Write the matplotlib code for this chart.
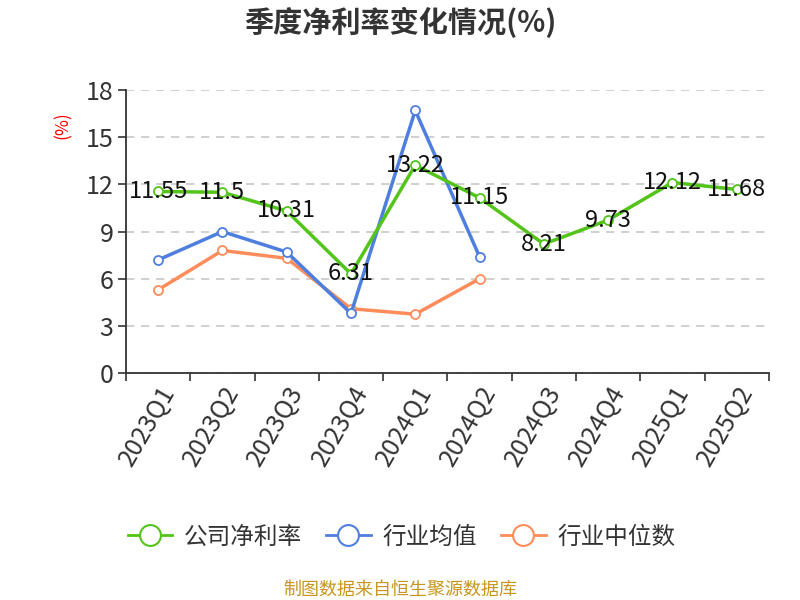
import numpy as np
import matplotlib.pyplot as plt
from matplotlib.lines import Line2D

plt.rcParams['font.family'] = ['Noto Sans CJK SC', 'DejaVu Sans']

# data
quarters = ['2023Q1', '2023Q2', '2023Q3', '2023Q4', '2024Q1',
            '2024Q2', '2024Q3', '2024Q4', '2025Q1', '2025Q2']
company = [11.55, 11.5, 10.31, 6.31, 13.22, 11.15, 8.21, 9.73, 12.12, 11.68]
ind_mean = [7.2, 9.0, 7.7, 3.8, 16.7, 7.4]
ind_median = [5.3, 7.8, 7.3, 4.1, 3.75, 6.0]

green = '#52c41a'
blue = '#4e7fde'
orange = '#ff8c5a'

fig = plt.figure(figsize=(8, 6), dpi=100)
ax = fig.add_axes([0.1575, 0.378, 0.8035, 0.472])

x = np.arange(len(quarters))
mk = dict(marker='o', markersize=6.5, markerfacecolor='white', markeredgewidth=1.3, linewidth=2.5)
ax.plot(x[:len(ind_median)], ind_median, color=orange, **mk, zorder=3)
ax.plot(x[:len(ind_mean)], ind_mean, color=blue, **mk, zorder=4)
ax.plot(x, company, color=green, **mk, zorder=5)

for xi, v in zip(x, company):
    ax.text(xi, v, f'{v:g}', ha='center', va='center', fontsize=17, color='#111111', zorder=6)

ax.set_xlim(-0.5, len(quarters) - 0.5)
ax.set_ylim(0, 18)
ax.set_yticks([0, 3, 6, 9, 12, 15, 18])
ax.set_xticks(x)
ax.set_xticklabels(quarters, rotation=60, ha='right', rotation_mode='anchor')
ax.set_xticks(np.arange(-0.5, len(quarters)), minor=True)
ax.tick_params(axis='x', which='major', length=0, pad=6, labelsize=18, labelcolor='#333333')
ax.tick_params(axis='x', which='minor', length=6, width=1.2, color='#333333')
ax.tick_params(axis='y', length=6, width=1.2, color='#333333', labelsize=18, labelcolor='#333333', pad=3)

ax.grid(axis='y', linestyle=(0, (5, 4)), color='#c8c8c8', linewidth=1.2)
ax.set_axisbelow(True)
for s in ['top', 'right']:
    ax.spines[s].set_visible(False)
for s in ['left', 'bottom']:
    ax.spines[s].set_color('#333333')
    ax.spines[s].set_linewidth(1.3)

fig.text(0.078, 0.792, '(%)', rotation=90, color='red', fontsize=12.5, ha='center', va='center')
fig.text(0.5, 0.962, '季度净利率变化情况(%)', ha='center', va='center', fontsize=21,
         fontweight='bold', color='#333333')

handles = [Line2D([], [], color=c, marker='o', markersize=15, markerfacecolor='white',
                  markeredgewidth=1.5, linewidth=2)
           for c in [green, blue, orange]]
fig.legend(handles, ['公司净利率', '行业均值', '行业中位数'], loc='center',
           bbox_to_anchor=(0.502, 0.105), ncol=3, frameon=False, fontsize=17,
           handlelength=1.9, columnspacing=1.0, handletextpad=0.5, labelcolor='#333333')
fig.text(0.5, 0.018, '制图数据来自恒生聚源数据库', ha='center', va='center',
         fontsize=13, color='#c8961e')

fig.savefig('out.png')
